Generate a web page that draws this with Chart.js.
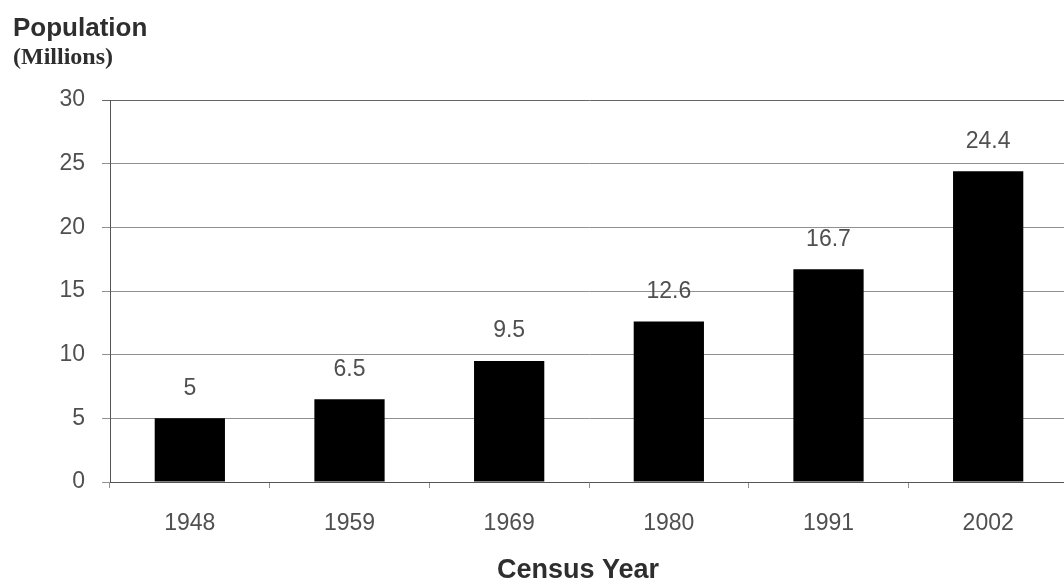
<!DOCTYPE html>
<html>
<head>
<meta charset="utf-8">
<title>Population by Census Year</title>
<script src="https://cdn.jsdelivr.net/npm/chart.js@4.4.1/dist/chart.umd.min.js"></script>
<style>
    html, body { margin: 0; padding: 0; background: #fff; overflow: hidden; }
    #wrap { width: 1064px; height: 588px; overflow: hidden; }
    canvas { display: block; }
</style>
</head>
<body>
<div id="wrap"><canvas id="popChart" width="1068" height="588"></canvas></div>
<script>
// Census data - population in millions
const censusYears = ['1948', '1959', '1969', '1980', '1991', '2002'];
const populationMillions = [5, 6.5, 9.5, 12.6, 16.7, 24.4];
const yTicks = [0, 5, 10, 15, 20, 25, 30];

const TEXT_GREY = '#505050';
const GRID_GREY = '#909090';

// Value labels above each bar
const barValueLabels = {
    id: 'barValueLabels',
    afterDatasetsDraw(chart) {
        const { ctx } = chart;
        const meta = chart.getDatasetMeta(0);
        ctx.save();
        ctx.font = '23px "Liberation Sans", Arial, sans-serif';
        ctx.fillStyle = TEXT_GREY;
        ctx.textAlign = 'center';
        ctx.textBaseline = 'middle';
        meta.data.forEach((bar, i) => {
            ctx.fillText(String(populationMillions[i]), bar.x, bar.y - 30);
        });
        ctx.restore();
    }
};

// Axis headings: "Population (Millions)" top-left, "Census Year" under the axis
const axisHeadings = {
    id: 'axisHeadings',
    afterDraw(chart) {
        const { ctx } = chart;
        ctx.save();
        ctx.fillStyle = '#2e2e2e';
        ctx.textAlign = 'left';
        ctx.textBaseline = 'alphabetic';
        ctx.font = 'bold 26px "Liberation Sans", Arial, sans-serif';
        ctx.fillText('Population', 13, 36);
        ctx.font = 'bold 24px "Liberation Serif", "Times New Roman", serif';
        ctx.fillText('(Millions)', 13, 64);
        ctx.font = 'bold 27px "Liberation Sans", Arial, sans-serif';
        ctx.textAlign = 'center';
        ctx.fillText('Census Year', 578, 578);
        ctx.restore();
    }
};

function createCensusChart(canvasId) {
    const ctx = document.getElementById(canvasId);
    if (!ctx) {
        console.error(`Canvas element ${canvasId} not found`);
        return null;
    }

    return new Chart(ctx, {
        type: 'bar',
        data: {
            labels: censusYears,
            datasets: [{
                label: 'Population (Millions)',
                data: populationMillions,
                backgroundColor: '#000',
                borderWidth: 0,
                categoryPercentage: 1,
                barPercentage: 0.44
            }]
        },
        options: {
            responsive: false,
            animation: false,
            layout: { padding: { top: 100, right: 0, left: 0, bottom: 0 } },
            plugins: {
                legend: { display: false },
                tooltip: { enabled: false }
            },
            scales: {
                x: {
                    afterFit: (scale) => { scale.height = 106; },
                    grid: {
                        display: true,
                        drawOnChartArea: false,
                        drawTicks: true,
                        tickLength: 6,
                        color: GRID_GREY,
                        offset: true
                    },
                    border: { display: true, color: '#555', width: 1 },
                    ticks: {
                        color: TEXT_GREY,
                        padding: 22,
                        font: { family: '"Liberation Sans", Arial, sans-serif', size: 23 }
                    }
                },
                y: {
                    min: 0,
                    max: 30,
                    afterFit: (scale) => { scale.width = 110; },
                    afterBuildTicks: (scale) => {
                        scale.ticks = yTicks.map(v => ({ value: v }));
                    },
                    grid: {
                        color: (c) => c.tick && c.tick.value === 30 ? '#666' : GRID_GREY,
                        lineWidth: 1,
                        tickLength: 8
                    },
                    border: { display: true, color: '#555', width: 1 },
                    ticks: {
                        color: TEXT_GREY,
                        padding: 17,
                        font: { family: '"Liberation Sans", Arial, sans-serif', size: 23 }
                    }
                }
            }
        },
        plugins: [barValueLabels, axisHeadings]
    });
}

document.addEventListener('DOMContentLoaded', () => createCensusChart('popChart'));
</script>
</body>
</html>
